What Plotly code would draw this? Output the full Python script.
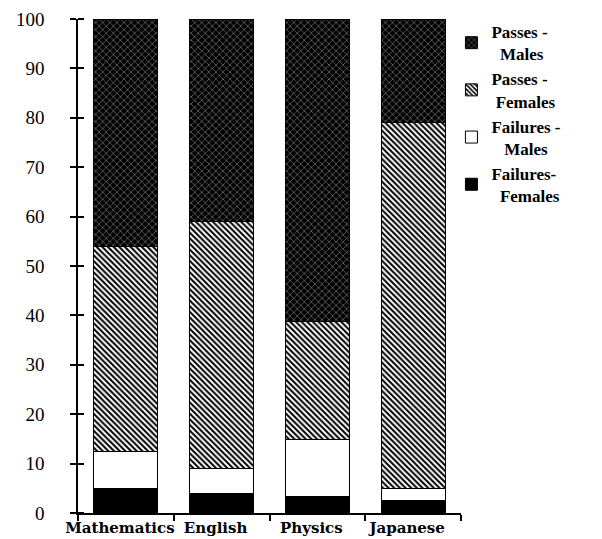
import plotly.graph_objects as go

# Percentage of candidates per subject, split by result and sex
subjects = ["Mathematics", "English", "Physics", "Japanese"]
failures_females = [5, 4, 3.3, 2.6]
failures_males = [7.5, 5, 11.5, 2.4]
passes_females = [41.5, 50, 24, 74]
passes_males = [46, 41, 61.2, 21]

y_ticks = [0, 10, 20, 30, 40, 50, 60, 70, 80, 90, 100]

serif = "Liberation Serif"
outline = dict(color="black", width=1)

fig = go.Figure()

fig.add_trace(go.Bar(
    x=subjects, y=failures_females, name="Failures-<br>  Females",
    marker=dict(color="black", line=outline),
))
fig.add_trace(go.Bar(
    x=subjects, y=failures_males, name="Failures -<br>   Males",
    marker=dict(color="white", line=outline),
))
fig.add_trace(go.Bar(
    x=subjects, y=passes_females, name="Passes -<br> Females",
    marker=dict(color="white", line=outline,
                pattern=dict(shape="\\", fgcolor="black", bgcolor="white",
                             size=4, solidity=0.5, fillmode="replace")),
))
fig.add_trace(go.Bar(
    x=subjects, y=passes_males, name="Passes -<br>  Males",
    marker=dict(color="black", line=outline,
                pattern=dict(shape="x", fgcolor="#9a9a9a", bgcolor="black",
                             size=5, solidity=0.2, fillmode="replace")),
))

# minor ticks sit a hair off the major ones (coinciding minor ticks are dropped)
# so every tick mark crosses the axis line
inner_ticks = [v + 0.02 for v in y_ticks[:-1]] + [99.98]

fig.update_layout(
    width=602, height=539,
    barmode="stack", bargap=0.33,
    paper_bgcolor="white", plot_bgcolor="white",
    margin=dict(l=78, r=141, t=19, b=26),
    font=dict(family=serif, size=16, color="black"),
    showlegend=True,
    legend=dict(
        x=0.975, y=1.01, xanchor="left", yanchor="top",
        traceorder="reversed",
        font=dict(family=serif, size=17, color="black", weight="bold"),
        itemwidth=30, tracegroupgap=0, bgcolor="rgba(0,0,0,0)",
    ),
    xaxis=dict(
        type="category", range=[-0.5, 3.5],
        showline=True, linecolor="black", linewidth=1.5,
        ticks="outside", ticklen=6, tickcolor="black", tickwidth=1.5,
        tickson="boundaries", showgrid=False, zeroline=False,
        tickangle=0, automargin=False, ticklabelshift=-6,
        tickfont=dict(family="DejaVu Serif", size=15, color="black",
                      weight="bold"),
    ),
    yaxis=dict(
        range=[0, 100], tickvals=y_ticks,
        showline=True, linecolor="black", linewidth=1.5,
        ticks="outside", ticklen=6, tickcolor="black", tickwidth=1.5,
        minor=dict(tickvals=inner_ticks, ticks="inside", ticklen=6,
                   tickcolor="black", tickwidth=1.5, showgrid=False),
        showgrid=False, zeroline=False, automargin=False,
        ticklabelstandoff=22,
        tickfont=dict(family=serif, size=19, color="black"),
    ),
)

fig.write_html("out.html")
